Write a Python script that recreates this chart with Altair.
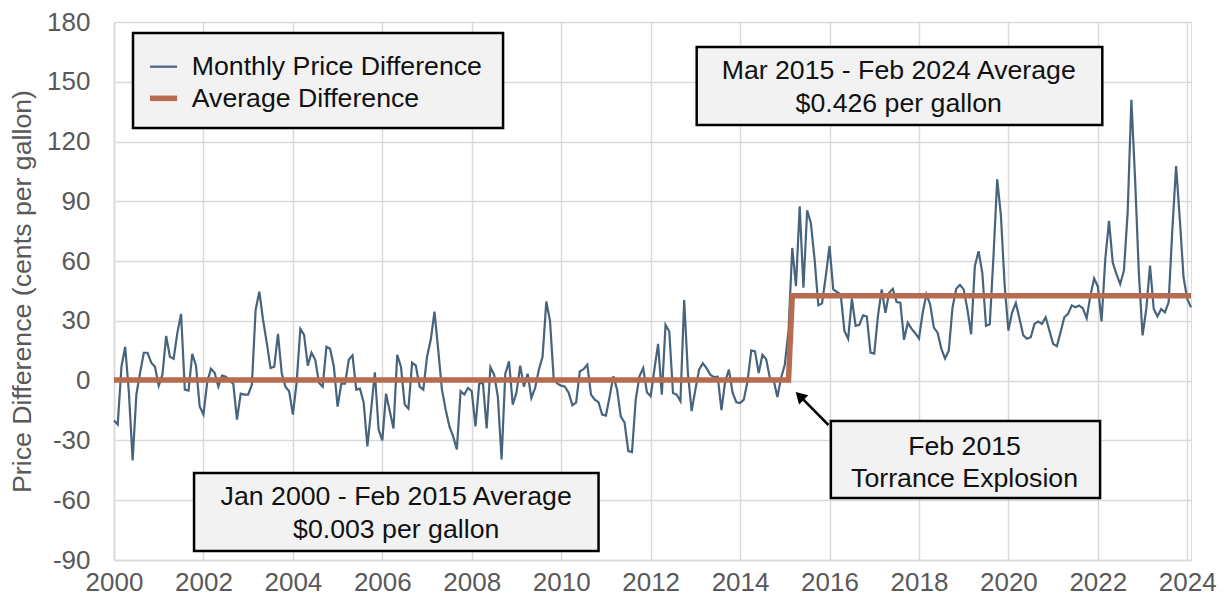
import altair as alt
import pandas as pd

# ---- Monthly price difference (cents per gallon), Jan 2000 - Feb 2024 ----
d2000 = [-20, -22, 7, 17, -6, -40, -7, 4, 14, 14, 9, 7]
d2001 = [-2.5, 3, 22.5, 12, 11, 24, 33.5, -4.5, -5, 13.5, 7.5, -13]
d2002 = [-17, -1, 6, 4, -3, 2.5, 2, 0, -1.5, -19.5, -6.5, -7]
d2003 = [-7, -2, 35.5, 44.7, 30.5, 19, 6.3, 7, 23.5, 3.8, -3, -5.3]
d2004 = [-17, -1, 26, 23, 7.5, 14, 10.5, -1, -3, 17, 16, 7]
d2005 = [-13, -1.5, -1.5, 10.5, 12.7, -4.5, -4, -11, -33, -14.5, 4.2, -24.5]
d2006 = [-30, -6.5, -15.3, -24, 13, 7, -12, -14, 9, 7.5, -3, -4.5]
d2007 = [12, 20.5, 34.7, 15.5, -4.5, -14.5, -23, -28, -34.5, -5.3, -7, -3.7]
d2008 = [-5.3, -23, -1.5, -1, -24, 6.8, 3, -8, -39.5, 3.5, 9.7, -12]
d2009 = [-6, 7.5, -3, 3.5, -8.7, -3.7, 5.5, 12, 39.7, 30, 0.5, -1.5]
d2010 = [-2.5, -3, -6, -12.3, -11, 4.7, 5.8, 8, -7, -9.5, -10.8, -17]
d2011 = [-17.5, -8, 2.2, -4.5, -18, -21, -35.3, -35.8, -9.5, 2.2, 6.3, -5.8]
d2012 = [-7.8, 5.5, 18.5, -7, 28, 24.7, -6.2, -7, -10.3, 40.5, 3.8, -15.3]
d2013 = [-4.5, 5.5, 8.8, 6.3, 3, 1.8, 2, -14.8, -0.3, 5.5, -6.2, -10.8]
d2014 = [-11.2, -9.5, -0.3, 15.2, 14.7, 3.8, 13, 10.8, 1.3, 0.5, -8.2, 1.3]
d2015 = [8, 25, 66.6, 47.5, 87.5, 46.6, 85.5, 79, 60.8, 37.8, 38.8, 52.5]
d2016 = [67.5, 45.8, 44.5, 43.3, 25, 21, 41.2, 27.5, 28, 32.8, 32.2, 14.1]
d2017 = [13.6, 32.5, 45.8, 34.1, 44.1, 46.1, 39.5, 39.1, 20.5, 29.1, 26.1, 23.8]
d2018 = [21.1, 34.1, 43.3, 38.3, 26.6, 24.1, 16.1, 11.1, 15, 36.6, 46.1, 48.1]
d2019 = [45.8, 35.8, 23.3, 57.5, 65, 54.1, 27.5, 28.3, 62.5, 101, 82.7, 47.7]
d2020 = [25.2, 34.3, 39, 31, 22.7, 21, 21.8, 28.5, 29.7, 28.5, 31.8, 25.2]
d2021 = [18.5, 17.3, 24.3, 31.8, 33.5, 37.7, 36.8, 37.7, 36.3, 31.3, 42.7, 51.3]
d2022 = [47.3, 29.7, 61, 80.2, 59.3, 53.5, 48.5, 55.2, 84.3, 141, 101, 54.3]
d2023 = [22.7, 36, 57.7, 36, 32.3, 36, 34.3, 39.3, 76, 107.7, 81, 51.8]
d2024 = [41, 36.8]

# ---- Average difference (step at the Feb 2015 Torrance explosion) ----
avg_x = [2000.0, 2015 + 1 / 12, 2015 + 2 / 12, 2024 + 1 / 12]
avg_y = [0.3, 0.3, 42.6, 42.6]

# ---- Axis ticks ----
x_ticks = list(range(2000, 2025, 2))
y_ticks = list(range(-90, 181, 30))

# ---- Annotation boxes (data coordinates: year, cents) ----
box_x = [2013.03, 2016.03, 2001.79]
box_x2 = [2022.10, 2022.05, 2010.835]
box_y = [167.45, -20.2, -46.3]
box_y2 = [128.3, -58.9, -85.5]
note_x = [2017.547, 2017.547, 2019.02, 2019.02, 2006.31, 2006.31]
note_y = [151.24, 134.98, -37.3, -53.5, -62.6, -78.8]
note_text = [
    "Mar 2015 - Feb 2024 Average", "$0.426 per gallon",
    "Feb 2015", "Torrance Explosion",
    "Jan 2000 - Feb 2015 Average", "$0.003 per gallon",
]

# ---- Legend (drawn inside the plot, data coordinates) ----
leg_names = ["Monthly Price Difference", "Average Difference"]
leg_colors = ["#47647e", "#b76b4f"]
leg_widths = [2.2, 5.5]
leg_box = dict(x=2000.425, x2=2008.70, y=174.48, y2=126.8)
leg_line_x = [2000.805, 2001.41]
leg_line_y = [157.57, 141.7]
leg_text_x = 2001.738
leg_text_y = [153.4, 137.5]

# ---- Arrow ----
arrow_tail = (2015.977, -22.25)
arrow_head = (2015.333, -7.63)

FONT = "Liberation Sans"
TXT = 26.7

monthly = (d2000 + d2001 + d2002 + d2003 + d2004 + d2005 + d2006 + d2007 + d2008
           + d2009 + d2010 + d2011 + d2012 + d2013 + d2014 + d2015 + d2016 + d2017
           + d2018 + d2019 + d2020 + d2021 + d2022 + d2023 + d2024)
df = pd.DataFrame({"year": [2000 + i / 12 for i in range(len(monthly))], "diff": monthly})
df_avg = pd.DataFrame({"year": avg_x, "diff": avg_y})

xscale = alt.Scale(domain=[2000, 2024 + 1 / 12], nice=False, zero=False)
yscale = alt.Scale(domain=[-90, 180], nice=False, zero=False)

x_axis = alt.Axis(values=x_ticks, labelExpr="'' + datum.value", grid=True,
                  gridColor="#d9d9d9", gridWidth=1.5, domainColor="#d9d9d9",
                  domainWidth=1.5, ticks=False, tickSize=0, labelPadding=9,
                  labelFlush=False, labelOverlap=False,
                  labelFontSize=26, labelColor="#595959", labelFont=FONT, title="")
y_axis = alt.Axis(values=y_ticks, labelExpr="'' + datum.value", grid=True,
                  gridColor="#d9d9d9", gridWidth=1.5, domainColor="#d9d9d9",
                  domainWidth=1.5, ticks=False, tickSize=0, labelPadding=24,
                  labelFlush=False, labelOverlap=False,
                  labelFontSize=26, labelColor="#595959", labelFont=FONT,
                  title="Price Difference (cents per gallon)", titleFontSize=26.7,
                  titleColor="#595959", titleFont=FONT, titleFontWeight="normal",
                  titleX=-92, titleY=269, titleAngle=270, titleAlign="center",
                  titleBaseline="middle")

X = lambda f="year": alt.X(f"{f}:Q", scale=xscale, axis=x_axis)
Y = lambda f="diff": alt.Y(f"{f}:Q", scale=yscale, axis=y_axis)

line = alt.Chart(df).mark_line(color=leg_colors[0], strokeWidth=2.2).encode(x=X(), y=Y())
avg = alt.Chart(df_avg).mark_line(color=leg_colors[1], strokeWidth=5.5).encode(x=X(), y=Y())

boxes = alt.Chart(pd.DataFrame({"x": box_x, "x2": box_x2, "y": box_y, "y2": box_y2})).mark_rect(
    fill="#f2f2f2", stroke="#000000", strokeWidth=2.5
).encode(x=alt.X("x:Q", scale=xscale), x2="x2:Q", y=alt.Y("y:Q", scale=yscale), y2="y2:Q")

notes = alt.Chart(pd.DataFrame({"x": note_x, "y": note_y, "t": note_text})).mark_text(
    font=FONT, fontSize=TXT, color="#111111", align="center", baseline="alphabetic"
).encode(x=alt.X("x:Q", scale=xscale), y=alt.Y("y:Q", scale=yscale), text="t:N")

leg_rect = alt.Chart(pd.DataFrame([leg_box])).mark_rect(
    fill="#f2f2f2", stroke="#000000", strokeWidth=2.5
).encode(x=alt.X("x:Q", scale=xscale), x2="x2:Q", y=alt.Y("y:Q", scale=yscale), y2="y2:Q")

leg_lines = []
for name, col, w, ly in zip(leg_names, leg_colors, leg_widths, leg_line_y):
    leg_lines.append(
        alt.Chart(pd.DataFrame({"x": [leg_line_x[0]], "x2": [leg_line_x[1]], "y": [ly]}))
        .mark_rule(color=col, strokeWidth=w)
        .encode(x=alt.X("x:Q", scale=xscale), x2="x2:Q", y=alt.Y("y:Q", scale=yscale))
    )

leg_text = alt.Chart(pd.DataFrame({"x": [leg_text_x] * 2, "y": leg_text_y, "t": leg_names})).mark_text(
    font=FONT, fontSize=TXT, color="#111111", align="left", baseline="alphabetic"
).encode(x=alt.X("x:Q", scale=xscale), y=alt.Y("y:Q", scale=yscale), text="t:N")

arrow_line = alt.Chart(pd.DataFrame({"x": [arrow_tail[0]], "y": [arrow_tail[1]],
                                     "x2": [arrow_head[0]], "y2": [arrow_head[1]]})).mark_rule(
    color="#000000", strokeWidth=2.5
).encode(x=alt.X("x:Q", scale=xscale), y=alt.Y("y:Q", scale=yscale), x2="x2:Q", y2="y2:Q")

arrow_tip = alt.Chart(pd.DataFrame({"x": [arrow_head[0]], "y": [arrow_head[1]]})).mark_point(
    shape="triangle-up", filled=True, size=170, angle=315, color="#000000", opacity=1
).encode(x=alt.X("x:Q", scale=xscale), y=alt.Y("y:Q", scale=yscale))

chart = alt.layer(
    line, avg, boxes, notes, leg_rect, *leg_lines, leg_text, arrow_line, arrow_tip
).properties(
    width=1077, height=538,
    padding={"left": 106, "top": 14, "right": 26, "bottom": 39},
    autosize=alt.AutoSizeParams(type="none"),
).configure_view(stroke=None).configure(background="#ffffff")

chart.save("out.html", embed_options={"renderer": "svg", "actions": False})
